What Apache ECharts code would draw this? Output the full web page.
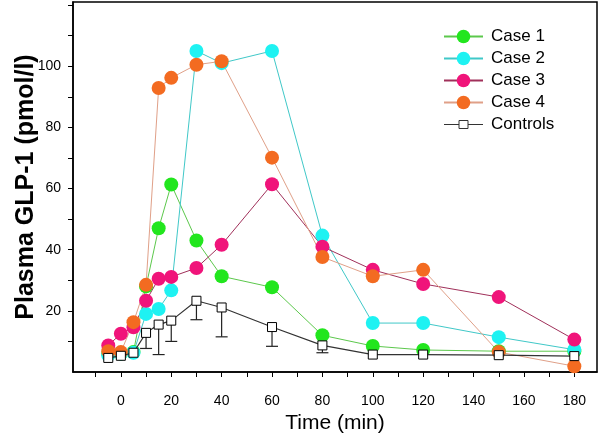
<!DOCTYPE html>
<html>
<head>
<meta charset="utf-8">
<script src="https://cdn.jsdelivr.net/npm/echarts@6/dist/echarts.min.js"></script>
<style>
html,body{margin:0;padding:0;background:#fff;}
#c{width:601px;height:441px;}
</style>
</head>
<body>
<div id="c"></div>
<script>
var times = [-5, 0, 5, 10, 15, 20, 30, 40, 60, 80, 100, 120, 150, 180];
var case1 = [6, 6, 6.5, 28, 47, 61.3, 43, 31.3, 27.7, 12, 8.5, 7.2, 6.8, 6.8];
var case2 = [5.5, 6, 6.3, 19, 20.6, 26.7, 105, 101, 105, 44.6, 16, 16, 11.4, 7.3];
var case3 = [8.7, 12.5, 14.6, 23.3, 30.5, 31.1, 34, 41.6, 61.4, 41, 33.4, 28.8, 24.5, 10.6];
var case4 = [6.8, 6.5, 16.3, 28.5, 92.9, 96.2, 100.5, 101.6, 70.1, 37.6, 31.3, 33.4, 6.5, 1.9];
var controls = [4.6, 5.3, 6.3, 12.8, 15.5, 16.8, 23.3, 21.1, 14.7, 8.7, 5.7, 5.7, 5.5, 5.2];
var controlsLow = [4.6, 5.3, 6.3, 7.7, 5.7, 10.0, 17.1, 11.5, 8.4, 6.3, 5.7, 5.7, 5.5, 5.2];
var xTicks = [-10, 0, 10, 20, 30, 40, 50, 60, 70, 80, 90, 100, 110, 120, 130, 140, 150, 160, 170, 180];
var xLabels = [0, 20, 40, 60, 80, 100, 120, 140, 160, 180];
var yTicks = [10, 20, 30, 40, 50, 60, 70, 80, 90, 100, 110, 120];
var yLabels = [20, 40, 60, 80, 100];

function pairs(ys) { return times.map(function (t, i) { return [t, ys[i]]; }); }

var FONT = '"Liberation Sans", Arial, sans-serif';
var chart = echarts.init(document.getElementById('c'), null, {renderer: 'canvas'});

function caseSeries(name, vals, marker, line) {
  return {
    name: name, type: 'line', data: pairs(vals),
    symbol: 'circle', symbolSize: 14, showSymbol: true,
    itemStyle: {color: marker},
    lineStyle: {color: line, width: 1},
    emphasis: {disabled: true},
    animation: false
  };
}

var option = {
  backgroundColor: '#fff',
  animation: false,
  grid: {left: 73, right: 4, top: 2, bottom: 69, show: true, borderColor: '#000', borderWidth: 1.5,
         backgroundColor: 'transparent', containLabel: false, outerBoundsMode: 'none'},
  xAxis: {
    type: 'value', min: -19, max: 189,
    name: 'Time (min)', nameLocation: 'middle', nameGap: 41, nameMoveOverlap: false,
    nameTextStyle: {fontFamily: FONT, fontSize: 21, color: '#000'},
    axisLine: {show: true, onZero: false, lineStyle: {color: '#000', width: 1.5}},
    axisTick: {show: true, customValues: xTicks, length: 5, lineStyle: {color: '#000', width: 1}},
    axisLabel: {customValues: xLabels, margin: 22, fontFamily: FONT, fontSize: 14, color: '#000'},
    splitLine: {show: false}
  },
  yAxis: {
    type: 'value', min: 0, max: 121,
    name: 'Plasma GLP-1 (pmol/l)', nameLocation: 'middle', nameGap: 34, nameMoveOverlap: false,
    nameTextStyle: {fontFamily: FONT, fontSize: 25, fontWeight: 'bold', color: '#000'},
    axisLine: {show: true, onZero: false, lineStyle: {color: '#000', width: 1.5}},
    axisTick: {show: true, customValues: yTicks, length: 5, lineStyle: {color: '#000', width: 1}},
    axisLabel: {customValues: yLabels, margin: 12, fontFamily: FONT, fontSize: 14, color: '#000'},
    splitLine: {show: false}
  },
  legend: {
    orient: 'vertical', left: 438, top: 23,
    itemWidth: 39, itemHeight: 17, itemGap: 5,
    textStyle: {fontFamily: FONT, fontSize: 17, color: '#000', lineHeight: 17, padding: [0, 0, 0, 3]},
    selectedMode: false,
    data: ['Case 1', 'Case 2', 'Case 3', 'Case 4',
      {name: 'Controls', icon: 'path://M0,8.5L15,8.5M24,8.5L39,8.5M15,4.5h9v8h-9z',
       itemStyle: {color: '#fff', borderColor: '#333', borderWidth: 1}}]
  },
  series: [
    caseSeries('Case 1', case1, '#22e61e', '#5cc84c'),
    caseSeries('Case 2', case2, '#1ef2f2', '#40c8c8'),
    caseSeries('Case 3', case3, '#f0147a', '#a0305a'),
    caseSeries('Case 4', case4, '#f36b21', '#e0a088'),
    {
      name: 'ctrlErr', type: 'custom',
      data: times.map(function (t, i) { return [t, controls[i], controlsLow[i]]; }),
      encode: {x: 0, y: 1},
      renderItem: function (params, api) {
        var top = api.coord([api.value(0), api.value(1)]);
        var low = api.coord([api.value(0), api.value(2)]);
        if (Math.abs(low[1] - top[1]) < 1) return null;
        var s = {stroke: '#222', lineWidth: 1.2};
        return {type: 'group', children: [
          {type: 'line', shape: {x1: top[0], y1: top[1], x2: low[0], y2: low[1]}, style: s},
          {type: 'line', shape: {x1: low[0] - 6, y1: low[1], x2: low[0] + 6, y2: low[1]}, style: s}
        ]};
      },
      z: 3, silent: true
    },
    {
      name: 'Controls', type: 'line', data: pairs(controls),
      symbol: 'rect', symbolSize: 9, showSymbol: true,
      itemStyle: {color: '#fff', borderColor: '#000', borderWidth: 1},
      lineStyle: {color: '#333', width: 1.2},
      emphasis: {disabled: true}, z: 4
    }
  ]
};
chart.setOption(option);
</script>
</body>
</html>
